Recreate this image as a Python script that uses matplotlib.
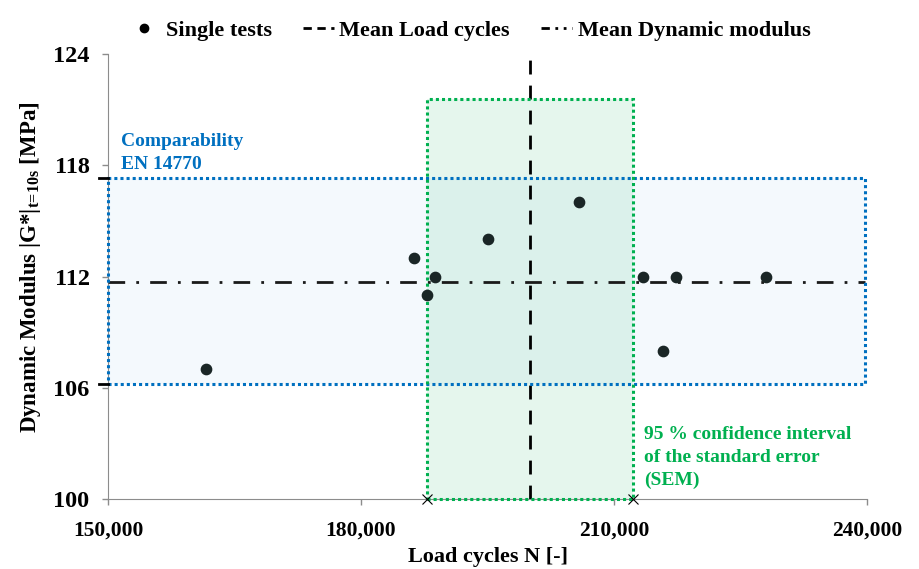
import numpy as np
import matplotlib.pyplot as plt
from matplotlib.lines import Line2D
from matplotlib.patches import Rectangle

plt.rcParams['font.family'] = 'Liberation Serif'
plt.rcParams['font.weight'] = 'bold'
plt.rcParams['mathtext.fontset'] = 'custom'
plt.rcParams['mathtext.rm'] = 'Liberation Serif:bold'
plt.rcParams['mathtext.it'] = 'Liberation Serif:bold'
plt.rcParams['mathtext.bf'] = 'Liberation Serif:bold'

# single tests (load cycles, dynamic modulus)
load_cycles = [161600, 186300, 187800, 188800, 195100, 205900, 213400, 215800, 217400, 228000]
modulus = [107, 113, 111, 112, 114, 116, 112, 108, 112, 112]

mean_n = 200000
mean_g = 111.7
sem_low, sem_high = 187800, 212200   # 95 % CI of the SEM
sem_top = 121.6
comp_low, comp_high = 106.2, 117.3   # +-5 % comparability band
x_ticks = [150000, 180000, 210000, 240000]
y_ticks = [100, 106, 112, 118, 124]

BLUE = '#0070C0'
GREEN = '#00B050'

fig = plt.figure(figsize=(9.19, 5.69), dpi=100)
ax = fig.add_axes([0.1175, 0.123, 0.826, 0.782])

# comparability band
ax.add_patch(Rectangle((150000, comp_low), 89700, comp_high - comp_low,
                       facecolor='#f4f9fd', edgecolor='none', zorder=1))
ax.add_patch(Rectangle((150000, comp_low), 89700, comp_high - comp_low,
                       facecolor='none', edgecolor=BLUE, linestyle=(0, (1, 1)),
                       linewidth=2.2, zorder=4, clip_on=False))

# SEM confidence interval
ax.add_patch(Rectangle((sem_low, 100), sem_high - sem_low, sem_top - 100,
                       facecolor=GREEN, alpha=0.1, edgecolor='none', zorder=2))
ax.add_patch(Rectangle((sem_low, 100), sem_high - sem_low, sem_top - 100,
                       facecolor='none', edgecolor=GREEN, linestyle=(0, (1, 1)),
                       linewidth=2.2, zorder=4, clip_on=False))
ax.plot([sem_low, sem_high], [100, 100], linestyle='none', marker='x',
        color='black', markersize=7, markeredgewidth=0.8, zorder=6, clip_on=False)

# mean lines
ax.plot([mean_n, mean_n], [100, 123.8], color='black', linestyle=(0, (5, 4)),
        linewidth=2, zorder=3)
ax.plot([150000, 239700], [mean_g, mean_g], color='#1a1a1a',
        linestyle=(0, (6, 4, 1, 4)), linewidth=2, zorder=3)

ax.scatter(load_cycles, modulus, s=55, color='#1a2626', zorder=5)

ax.set_xlim(150000, 240000)
ax.set_ylim(100, 124)
ax.set_xticks(x_ticks)
ax.set_xticklabels([f'{v:,}' for v in x_ticks])
ax.set_yticks(y_ticks)
ax.tick_params(color='#8c8c8c', length=4.3, width=1)
ax.tick_params(axis='x', labelsize=15.5, pad=11)
ax.tick_params(axis='y', labelsize=17.5, pad=9)
for s in ['top', 'right']:
    ax.spines[s].set_visible(False)
for s in ['left', 'bottom']:
    ax.spines[s].set_color('#8c8c8c')

# black marks where the band crosses the y axis
ax.plot([148900, 150000], [comp_low, comp_low], color='black', lw=2, clip_on=False, zorder=6)
ax.plot([148900, 150000], [comp_high, comp_high], color='black', lw=2, clip_on=False, zorder=6)

ax.set_xlabel('Load cycles N [-]', fontsize=16, fontweight='bold', labelpad=5)
ax.set_ylabel(r'Dynamic Modulus |G*|$_{t\!=\!10s}$ [MPa]', fontsize=16.5,
              fontweight='bold')
ax.yaxis.set_label_coords(-0.086, 0.52)

ax.text(151500, 119.72, 'Comparability\nEN 14770', color=BLUE, fontsize=14,
        fontweight='bold', linespacing=1.45, va='top')
ax.text(213600, 103.95, '95 % confidence interval\nof the standard error\n(SEM)',
        color=GREEN, fontsize=14, fontweight='bold', linespacing=1.45, va='top')

handles = [
    Line2D([], [], marker='o', linestyle='none', color='black', markersize=6),
    Line2D([], [], color='black', linestyle=(0, (3, 2)), linewidth=2),
    Line2D([], [], color='black', linestyle=(0, (3, 2, 1, 2, 1, 2)), linewidth=2),
]
fig.legend(handles, ['Single tests', 'Mean Load cycles', 'Mean Dynamic modulus'],
           loc='upper center', bbox_to_anchor=(0.511, 1.0), ncol=3, frameon=False,
           fontsize=16, handlelength=1.4, handletextpad=0.25, columnspacing=1.4)

fig.savefig('out.png', dpi=100)
